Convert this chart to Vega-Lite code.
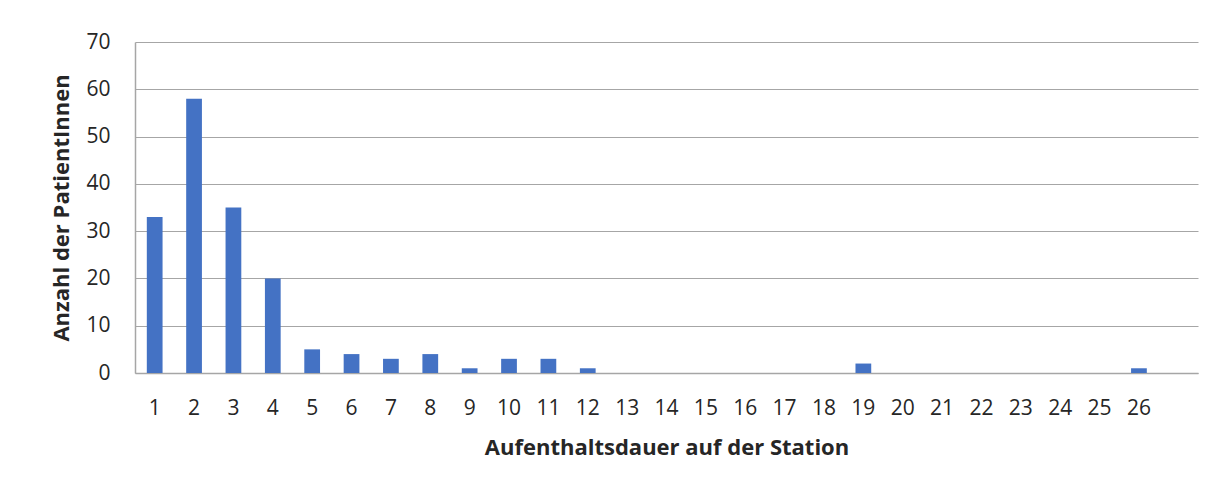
{
  "$schema": "https://vega.github.io/schema/vega-lite/v6.json",
  "width": 1063,
  "height": 331,
  "autosize": {"type": "none"},
  "padding": {"left": 135, "top": 42, "right": 30, "bottom": 113},
  "background": "white",
  "config": {
    "view": {"stroke": null},
    "font": "Open Sans",
    "axis": {"labelFont": "Open Sans", "titleFont": "Open Sans", "labelColor": "#262626", "titleColor": "#262626"}
  },
  "data": {
    "values": [
      {"tage": 1, "anzahl": 33}, {"tage": 2, "anzahl": 58}, {"tage": 3, "anzahl": 35},
      {"tage": 4, "anzahl": 20}, {"tage": 5, "anzahl": 5}, {"tage": 6, "anzahl": 4},
      {"tage": 7, "anzahl": 3}, {"tage": 8, "anzahl": 4}, {"tage": 9, "anzahl": 1},
      {"tage": 10, "anzahl": 3}, {"tage": 11, "anzahl": 3}, {"tage": 12, "anzahl": 1},
      {"tage": 13, "anzahl": 0}, {"tage": 14, "anzahl": 0}, {"tage": 15, "anzahl": 0},
      {"tage": 16, "anzahl": 0}, {"tage": 17, "anzahl": 0}, {"tage": 18, "anzahl": 0},
      {"tage": 19, "anzahl": 2}, {"tage": 20, "anzahl": 0}, {"tage": 21, "anzahl": 0},
      {"tage": 22, "anzahl": 0}, {"tage": 23, "anzahl": 0}, {"tage": 24, "anzahl": 0},
      {"tage": 25, "anzahl": 0}, {"tage": 26, "anzahl": 1}
    ]
  },
  "mark": {"type": "bar", "color": "#4472C4"},
  "encoding": {
    "x": {
      "field": "tage",
      "type": "ordinal",
      "sort": "ascending",
      "scale": {
        "domain": [1, 2, 3, 4, 5, 6, 7, 8, 9, 10, 11, 12, 13, 14, 15, 16, 17, 18, 19, 20, 21, 22, 23, 24, 25, 26, 27],
        "paddingInner": 0.6,
        "paddingOuter": 0.3
      },
      "axis": {
        "title": "Aufenthaltsdauer auf der Station",
        "titleFontSize": 22,
        "titleFontWeight": "bold",
        "titlePadding": 19,
        "labelAngle": 0,
        "labelFontSize": 21,
        "labelPadding": 24,
        "labelExpr": "datum.value == 27 ? '' : datum.label",
        "ticks": false,
        "domainColor": "#a6a6a6",
        "domainWidth": 1.5
      }
    },
    "y": {
      "field": "anzahl",
      "type": "quantitative",
      "scale": {"domain": [0, 70], "nice": false},
      "axis": {
        "title": "Anzahl der PatientInnen",
        "titleFontSize": 22,
        "titleFontWeight": "bold",
        "titlePadding": 12,
        "values": [0, 10, 20, 30, 40, 50, 60, 70],
        "labelFontSize": 21,
        "labelPadding": 25,
        "ticks": false,
        "domainColor": "#a6a6a6",
        "domainWidth": 1.5,
        "grid": true,
        "gridColor": "#a6a6a6",
        "gridWidth": 1
      }
    }
  }
}
